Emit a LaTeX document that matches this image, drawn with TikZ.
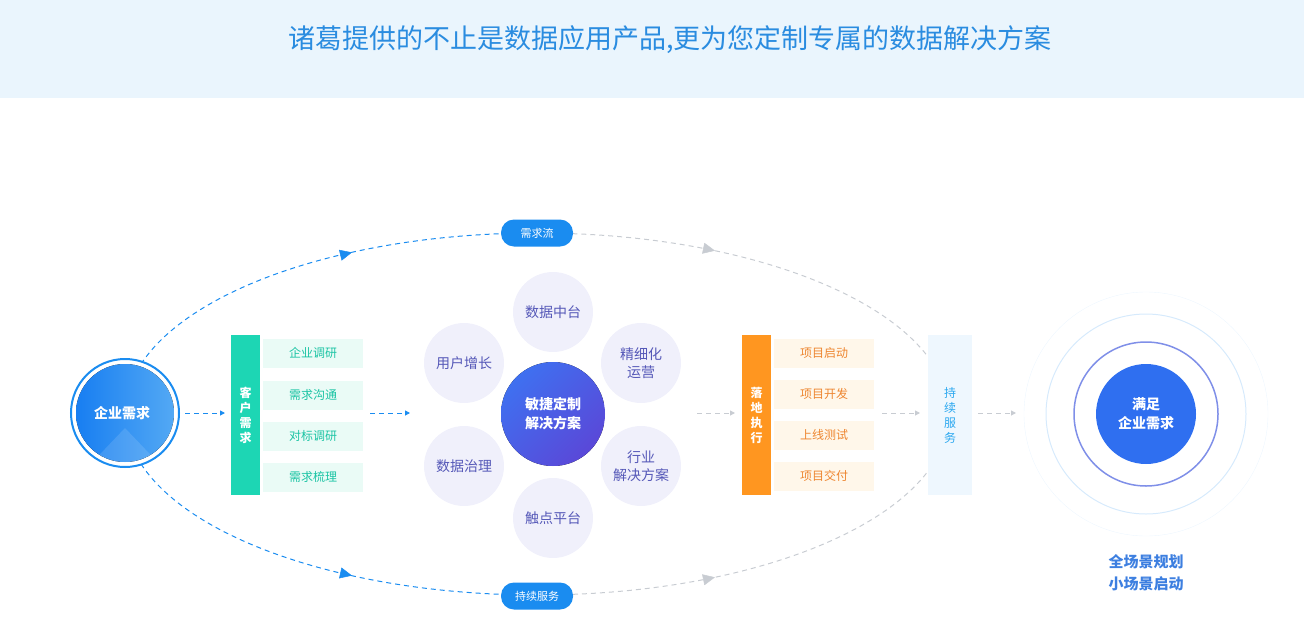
\documentclass[tikz,border=0pt]{standalone}
\usepackage{fontspec}
\setmainfont{Noto Sans CJK SC}
\usetikzlibrary{arrows.meta}
\definecolor{hdr}{HTML}{EAF5FD}
\definecolor{ttl}{HTML}{2A8CE0}
\definecolor{bl}{HTML}{1A8CF0}
\definecolor{gr}{HTML}{C8CCD2}
\definecolor{grn}{HTML}{1DD6B4}
\definecolor{grnbg}{HTML}{EAFBF6}
\definecolor{grntx}{HTML}{1BC4A4}
\definecolor{org}{HTML}{FF9620}
\definecolor{orgbg}{HTML}{FFF7EA}
\definecolor{orgtx}{HTML}{EE8630}
\definecolor{pet}{HTML}{F0F0FB}
\definecolor{pettx}{HTML}{5558B8}
\definecolor{svbg}{HTML}{EEF7FE}
\definecolor{svtx}{HTML}{2BA8F0}
\definecolor{cca}{HTML}{3F70F0}
\definecolor{ccb}{HTML}{5A48D8}
\begin{document}
\begin{tikzpicture}[x=1pt,y=-1pt,
  lbl/.style={font=\fontsize{12}{14}\selectfont},
  bar/.style={minimum width=29pt,minimum height=160pt,inner sep=0pt,text=white,font=\fontsize{12}{15}\selectfont\bfseries,align=center},
  item/.style={minimum width=100pt,minimum height=29pt,inner sep=0pt,lbl},
  petal/.style={circle,minimum size=80pt,inner sep=0pt,fill=pet,text=pettx,font=\fontsize{14}{18}\selectfont,align=center},
  pill/.style={rounded corners=13pt,fill=bl,text=white,minimum width=72pt,minimum height=27pt,inner sep=0pt,font=\fontsize{11}{13}\selectfont},
  dsh/.style={dash pattern=on 5pt off 4pt,line width=1pt},
  arr/.style={dsh,-{Triangle[length=5pt,width=5pt]}},
  tip/.style={line width=0.5pt,-{Triangle[length=12pt,width=11pt]}}
]
\useasboundingbox (0,0) rectangle (1304,640);
\fill[hdr] (0,0) rectangle (1304,98);
\node[text=ttl,font=\fontsize{27}{30}\selectfont] (title) at (670,40) {诸葛提供的不止是数据应用产品,更为您定制专属的数据解决方案};

% ellipse flow
\draw[gr,dsh] (537,414) ++(90:412 and 181) arc[start angle=90,end angle=-90,x radius=412,y radius=181];
\draw[bl,dsh] (537,414) ++(164:412 and 181) arc[start angle=164,end angle=90,x radius=412,y radius=181];
\draw[bl,dsh] (537,414) ++(196:412 and 181) arc[start angle=196,end angle=270,x radius=412,y radius=181];
\coordinate (t1a) at (340,255.3); \coordinate (t1b) at (352,252.4);
\coordinate (t2a) at (703,248.2); \coordinate (t2b) at (715,250.7);
\coordinate (t3a) at (340,572.9); \coordinate (t3b) at (352,575.6);
\coordinate (t4a) at (703,579.8); \coordinate (t4b) at (715,577.3);
\draw[bl,tip] (t1a) -- (t1b);
\draw[gr,tip] (t2a) -- (t2b);
\draw[bl,tip] (t3a) -- (t3b);
\draw[gr,tip] (t4a) -- (t4b);
\node[pill] (p1) at (537,233) {需求流};
\node[pill] (p2) at (537,596) {持续服务};

% left circle
\node[circle,draw=bl,line width=2pt,fill=white,minimum size=108pt] (lc) at (125,413) {};
\begin{scope}
\clip (125,413) circle (49);
\fill[left color=bl!90!blue,right color=bl!75!white] (76,364) rectangle (174,462);
\fill[white,opacity=0.12] (125,428) -- (165,470) -- (85,470) -- cycle;
\end{scope}
\node[text=white,font=\fontsize{14}{16}\selectfont\bfseries] (lct) at (122,413) {企业需求};

% green group
\node[bar,fill=grn] (g) at (245.5,415) {客\\户\\需\\求};
\foreach \t/\y [count=\i] in {企业调研/353,需求沟通/395,对标调研/436,需求梳理/477}
  \node[item,fill=grnbg,text=grntx] (g\i) at (313,\y) {\t};

% center
\foreach \t/\x/\y [count=\i] in {数据中台/553/312,精细化\\运营/641/363,行业\\解决方案/641/466,触点平台/553/518,数据治理/464/466,用户增长/464/363}
  \node[petal] (pt\i) at (\x,\y) {\t};
\begin{scope}
\clip (553,414) circle (52);
\fill[left color=cca,right color=ccb,shading angle=45] (501,362) rectangle (605,466);
\end{scope}
\node[circle,minimum size=104pt,inner sep=0pt,text=white,font=\fontsize{14}{19}\selectfont\bfseries,align=center] (cc) at (553,414) {敏捷定制\\解决方案};

% orange group
\node[bar,fill=org] (o) at (756.5,415) {落\\地\\执\\行};
\foreach \t/\y [count=\i] in {项目启动/353,项目开发/394,上线测试/435,项目交付/476}
  \node[item,fill=orgbg,text=orgtx] (o\i) at (824,\y) {\t};

\node[minimum width=44pt,minimum height=160pt,inner sep=0pt,fill=svbg,text=svtx,font=\fontsize{12}{15}\selectfont,align=center] (sv) at (950,415) {持\\续\\服\\务};

% right circles
\node[circle,draw=bl!8,minimum size=244pt,inner sep=0pt] (r1) at (1146,414) {};
\node[circle,draw=bl!18,line width=1pt,minimum size=200pt,inner sep=0pt] (r2) at (1146,414) {};
\node[circle,draw={rgb,255:red,127;green,143;blue,232},line width=1.5pt,minimum size=144pt,inner sep=0pt] (r3) at (1146,414) {};
\node[circle,fill={rgb,255:red,47;green,111;blue,240},minimum size=100pt,inner sep=0pt,text=white,font=\fontsize{14}{19}\selectfont\bfseries,align=center] (rc) at (1146,414) {满足\\企业需求};
\node[text={rgb,255:red,61;green,127;blue,224},font=\fontsize{15}{22}\selectfont\bfseries,align=center] (rt) at (1146,573) {全场景规划\\小场景启动};

% small arrows
\coordinate (a1) at (185,413); \coordinate (a2) at (225,413);
\coordinate (b1) at (370,413); \coordinate (b2) at (410,413);
\coordinate (c1) at (697,413); \coordinate (c2) at (735,413);
\coordinate (d1) at (882,413); \coordinate (d2) at (920,413);
\coordinate (e1) at (978,413); \coordinate (e2) at (1016,413);
\draw[bl,arr] (a1) -- (a2);
\draw[bl,arr] (b1) -- (b2);
\draw[gr,arr] (c1) -- (c2);
\draw[gr,arr] (d1) -- (d2);
\draw[gr,arr] (e1) -- (e2);
\end{tikzpicture}
\end{document}
